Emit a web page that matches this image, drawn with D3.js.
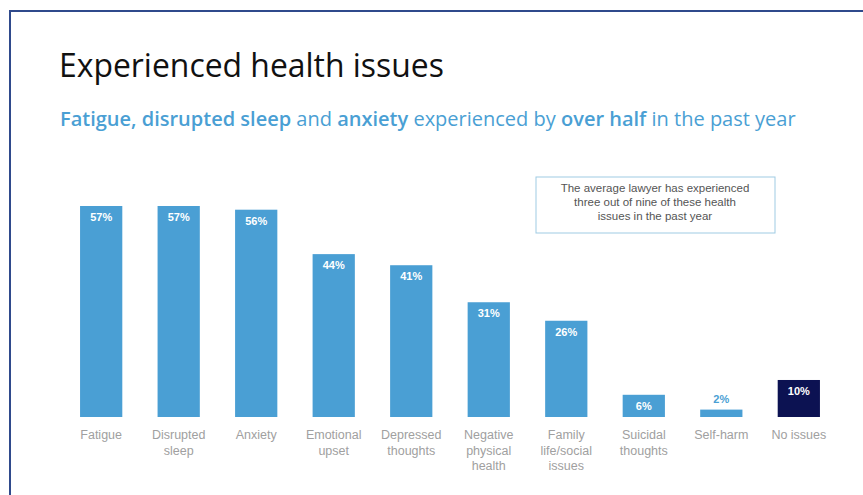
<!DOCTYPE html>
<meta charset="utf-8">
<script src="https://d3js.org/d3.v7.min.js"></script>
<style>
  body { margin: 0; background: #fff; }
</style>
<body>
<div id="chart"></div>
<script>
// data
var categories = ["Fatigue", "Disrupted sleep", "Anxiety", "Emotional upset", "Depressed thoughts",
  "Negative physical health", "Family life/social issues", "Suicidal thoughts", "Self-harm", "No issues"]
var labelLines = [["Fatigue"], ["Disrupted", "sleep"], ["Anxiety"], ["Emotional", "upset"], ["Depressed", "thoughts"],
  ["Negative", "physical", "health"], ["Family", "life/social", "issues"], ["Suicidal", "thoughts"], ["Self-harm"], ["No issues"]]
var values = [57, 57, 56, 44, 41, 31, 26, 6, 2, 10]

var W = 863, H = 495
var svg = d3.select("#chart").append("svg").attr("width", W).attr("height", H)

// slide frame
svg.append("path")
  .attr("d", "M10," + H + " V11 H" + W)
  .attr("fill", "none").attr("stroke", "#2f4a8c").attr("stroke-width", 2)

svg.append("text")
  .attr("x", 59).attr("y", 77)
  .attr("font-family", "'Open Sans', sans-serif").attr("font-size", 31.9)
  .attr("fill", "#111")
  .text("Experienced health issues")

var sub = svg.append("text")
  .attr("x", 60).attr("y", 126)
  .attr("font-family", "'Open Sans', sans-serif").attr("font-size", 20)
  .attr("fill", "#4a9fd4")
var parts = [["Fatigue, disrupted sleep", 600], [" and ", 400], ["anxiety", 600],
  [" experienced by ", 400], ["over half", 600], [" in the past year", 400]]
parts.forEach(function (p) {
  sub.append("tspan").attr("font-weight", p[1]).text(p[0])
})

var x = d3.scaleBand().domain(categories).range([63, 837]).paddingInner(0.455).paddingOuter(0.22)
var y = d3.scaleLinear().domain([0, 57]).range([417, 206])

svg.append("g").selectAll("rect")
  .data(values)
  .enter().append("rect")
    .attr("x", function (d, i) { return x(categories[i]) })
    .attr("width", x.bandwidth())
    .attr("y", function (d) { return y(d) })
    .attr("height", function (d) { return y(0) - y(d) })
    .attr("fill", function (d, i) { return categories[i] === "No issues" ? "#0c1252" : "#4a9fd4" })

svg.append("g").selectAll("text")
  .data(values)
  .enter().append("text")
    .attr("x", function (d, i) { return x(categories[i]) + x.bandwidth() / 2 })
    .attr("y", function (d) { return d < 4 ? y(d) - 7 : y(d) + 15 })
    .attr("text-anchor", "middle")
    .attr("font-family", "Arial, 'Liberation Sans', sans-serif")
    .attr("font-size", 11).attr("font-weight", "bold")
    .attr("fill", function (d) { return d < 4 ? "#4a9fd4" : "#fff" })
    .text(function (d) { return d + "%" })

var lab = svg.append("g").selectAll("text")
  .data(categories)
  .enter().append("text")
    .attr("x", function (d) { return x(d) + x.bandwidth() / 2 })
    .attr("y", 439)
    .attr("text-anchor", "middle")
    .attr("font-family", "Arial, 'Liberation Sans', sans-serif")
    .attr("font-size", 12.5)
    .attr("fill", "#a0a0a0")
lab.each(function (d, i) {
  var t = d3.select(this)
  labelLines[i].forEach(function (line, j) {
    t.append("tspan").attr("x", x(d) + x.bandwidth() / 2).attr("dy", j === 0 ? 0 : 15.5).text(line)
  })
})

// note box
svg.append("rect")
  .attr("x", 536).attr("y", 177).attr("width", 239).attr("height", 56)
  .attr("fill", "#fff").attr("stroke", "#9fcbe3").attr("stroke-width", 1)
var note = ["The average lawyer has experienced", "three out of nine of these health", "issues in the past year"]
svg.append("g").selectAll("text")
  .data(note)
  .enter().append("text")
    .attr("x", 655).attr("y", function (d, i) { return 192 + i * 14 })
    .attr("text-anchor", "middle")
    .attr("font-family", "Arial, 'Liberation Sans', sans-serif")
    .attr("font-size", 11.5)
    .attr("fill", "#555")
    .text(function (d) { return d })
</script>
</body>
